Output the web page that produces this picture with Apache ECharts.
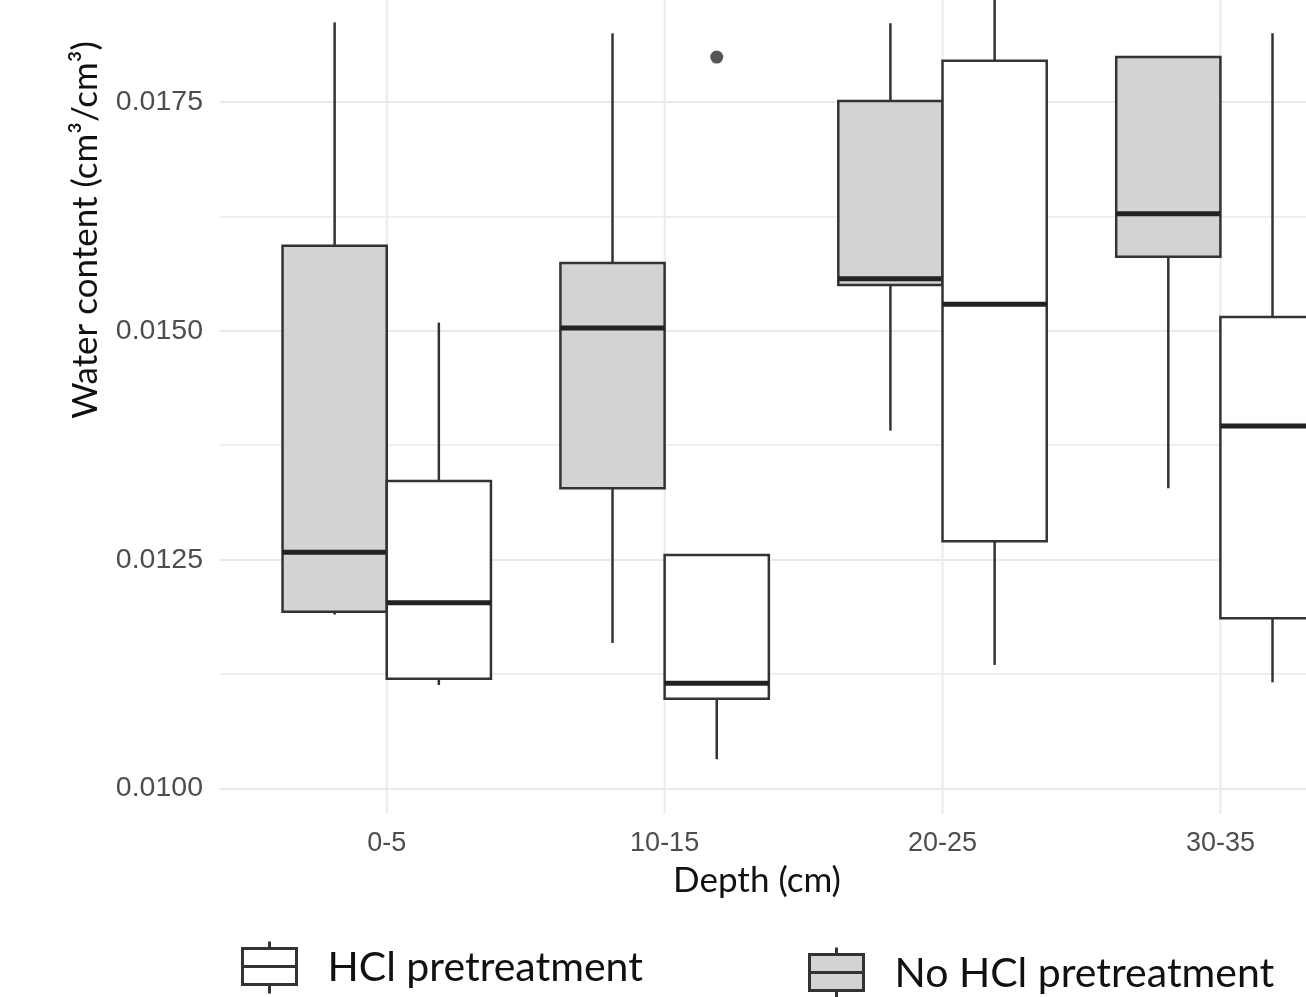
<!DOCTYPE html>
<html>
<head>
<meta charset="utf-8">
<script src="https://cdn.jsdelivr.net/npm/echarts@6/dist/echarts.min.js"></script>
<style>
html,body{margin:0;padding:0;background:#fff;}
#chart{width:1306px;height:997px;}
</style>
</head>
<body>
<div id="chart"></div>
<script>
// ---- data ----
const categories = ['0-5', '10-15', '20-25', '30-35'];
// each row: [min, q1, median, q3, max]
const noHclStats = [
  [0.01190, 0.01193, 0.01258, 0.01593, 0.01837],
  [0.01159, 0.01328, 0.01503, 0.01574, 0.01825],
  [0.01391, 0.01550, 0.01557, 0.01751, 0.01836],
  [0.01328, 0.01581, 0.01628, 0.01799, 0.01799]
];
const hclStats = [
  [0.01113, 0.01120, 0.01203, 0.01336, 0.01509],
  [0.01032, 0.01098, 0.01115, 0.01255, 0.01255],
  [0.01135, 0.01270, 0.01529, 0.01795, 0.01920],
  [0.01116, 0.01186, 0.01396, 0.01515, 0.01825]
];
// [category index, value]
const hclOutliers = [[1, 0.01799]];
const yMajorTicks = [0.0100, 0.0125, 0.0150, 0.0175];

// ---- layout / style constants ----
const DODGE = 0.1875;
const BOX_WIDTH = 0.375;
const STROKE = '#333333';

function boxRenderer(offset, fill) {
  return function (params, api) {
    const xc = api.value(0) + offset;
    const pMax = api.coord([xc, api.value(5)]);
    const pQ3 = api.coord([xc, api.value(4)]);
    const pMed = api.coord([xc, api.value(3)]);
    const pQ1 = api.coord([xc, api.value(2)]);
    const pMin = api.coord([xc, api.value(1)]);
    const w = api.size([BOX_WIDTH, 0])[0];
    const x0 = pQ3[0] - w / 2;
    return {
      type: 'group',
      children: [
        { type: 'line', shape: { x1: pQ3[0], y1: pMax[1], x2: pQ3[0], y2: pQ3[1] }, style: { stroke: STROKE, lineWidth: 2.5 } },
        { type: 'line', shape: { x1: pQ1[0], y1: pQ1[1], x2: pQ1[0], y2: pMin[1] }, style: { stroke: STROKE, lineWidth: 2.5 } },
        { type: 'rect', shape: { x: x0, y: pQ3[1], width: w, height: pQ1[1] - pQ3[1] }, style: { fill: fill, stroke: STROKE, lineWidth: 2.5 } },
        { type: 'line', shape: { x1: x0, y1: pMed[1], x2: x0 + w, y2: pMed[1] }, style: { stroke: '#222222', lineWidth: 5 } }
      ]
    };
  };
}

const boxIcon = 'path://M0,7 L54,7 L54,43 L0,43 Z M0,25 L54,25 M27,0 L27,7 M27,43 L27,52';

const chart = echarts.init(document.getElementById('chart'), null, { renderer: 'canvas' });
chart.setOption({
  animation: false,
  backgroundColor: '#ffffff',
  grid: { left: 220, right: 0, top: 0, bottom: 208.5, containLabel: false },
  xAxis: {
    type: 'value',
    min: -0.6,
    max: 3.308,
    interval: 0.2,
    axisLine: { show: false },
    axisTick: { show: false },
    splitLine: { show: false },
    axisLabel: {
      margin: 42,
      fontFamily: 'Liberation Sans',
      fontSize: 27,
      color: '#4d4d4d',
      showMaxLabel: false,
      formatter: function (v) {
        const r = Math.round(v);
        if (Math.abs(v - r) < 1e-6 && r >= 0 && r < categories.length) return categories[r];
        return '';
      }
    }
  },
  yAxis: {
    type: 'value',
    min: 0.0100,
    max: 0.018614,
    interval: 0.00125,
    axisLine: { show: false },
    axisTick: { show: false },
    splitLine: { show: true, showMaxLine: false, lineStyle: { color: ['#e9e9e9', '#efefef'], width: 2 } },
    axisLabel: {
      margin: 17,
      fontFamily: 'Liberation Sans',
      fontSize: 28.5,
      color: '#4d4d4d',
      formatter: function (v) {
        const hit = yMajorTicks.find(function (t) { return Math.abs(t - v) < 1e-9; });
        return hit !== undefined ? hit.toFixed(4) : '';
      }
    }
  },
  legend: [
    {
      data: ['HCl pretreatment'],
      left: 241, top: 940, padding: 0,
      selectedMode: false,
      icon: boxIcon, itemWidth: 54, itemHeight: 52,
      itemStyle: { color: '#ffffff', borderColor: STROKE, borderWidth: 3 },
      textStyle: { fontFamily: 'Lato', fontSize: 41, color: '#111', padding: [0, 0, 0, 26] }
    },
    {
      data: ['No HCl pretreatment'],
      left: 808, top: 946, padding: 0,
      selectedMode: false,
      icon: boxIcon, itemWidth: 54, itemHeight: 52,
      itemStyle: { color: '#d3d3d3', borderColor: STROKE, borderWidth: 3 },
      textStyle: { fontFamily: 'Lato', fontSize: 41, color: '#111', padding: [0, 0, 0, 26] }
    }
  ],
  graphic: [
    {
      type: 'text', x: 86, y: 230, rotation: Math.PI / 2,
      style: { text: 'Water content (cm³/cm³)', fontFamily: 'Lato', fontSize: 35, fill: '#111', textAlign: 'center', textVerticalAlign: 'middle' }
    },
    {
      type: 'text', x: 757, y: 881,
      style: { text: 'Depth (cm)', fontFamily: 'Lato', fontSize: 35, fill: '#111', textAlign: 'center', textVerticalAlign: 'middle' }
    }
  ],
  series: [
    {
      name: 'vgrid',
      type: 'custom',
      silent: true,
      z: 1,
      data: categories.map(function (c, i) { return [i, 0.0100]; }),
      encode: { x: 0, y: 1 },
      renderItem: function (params, api) {
        const p = api.coord([api.value(0), api.value(1)]);
        const cs = params.coordSys;
        return { type: 'line', shape: { x1: p[0], y1: cs.y, x2: p[0], y2: p[1] + 25 }, style: { stroke: '#ebebeb', lineWidth: 2 } };
      }
    },
    {
      name: 'No HCl pretreatment',
      type: 'custom',
      z: 2,
      itemStyle: { color: '#d3d3d3', borderColor: STROKE, borderWidth: 2.5 },
      data: noHclStats.map(function (s, i) { return [i].concat(s); }),
      encode: { x: 0, y: [1, 2, 3, 4, 5] },
      renderItem: boxRenderer(-DODGE, '#d3d3d3')
    },
    {
      name: 'HCl pretreatment',
      type: 'custom',
      z: 2,
      itemStyle: { color: '#ffffff', borderColor: STROKE, borderWidth: 2.5 },
      data: hclStats.map(function (s, i) { return [i].concat(s); }),
      encode: { x: 0, y: [1, 2, 3, 4, 5] },
      renderItem: boxRenderer(DODGE, '#ffffff')
    },
    {
      name: 'HCl outliers',
      type: 'scatter',
      z: 3,
      symbol: 'circle',
      symbolSize: 13,
      itemStyle: { color: '#2b2b2b' },
      data: hclOutliers.map(function (o) { return [o[0] + DODGE, o[1]]; })
    }
  ]
});
</script>
</body>
</html>
